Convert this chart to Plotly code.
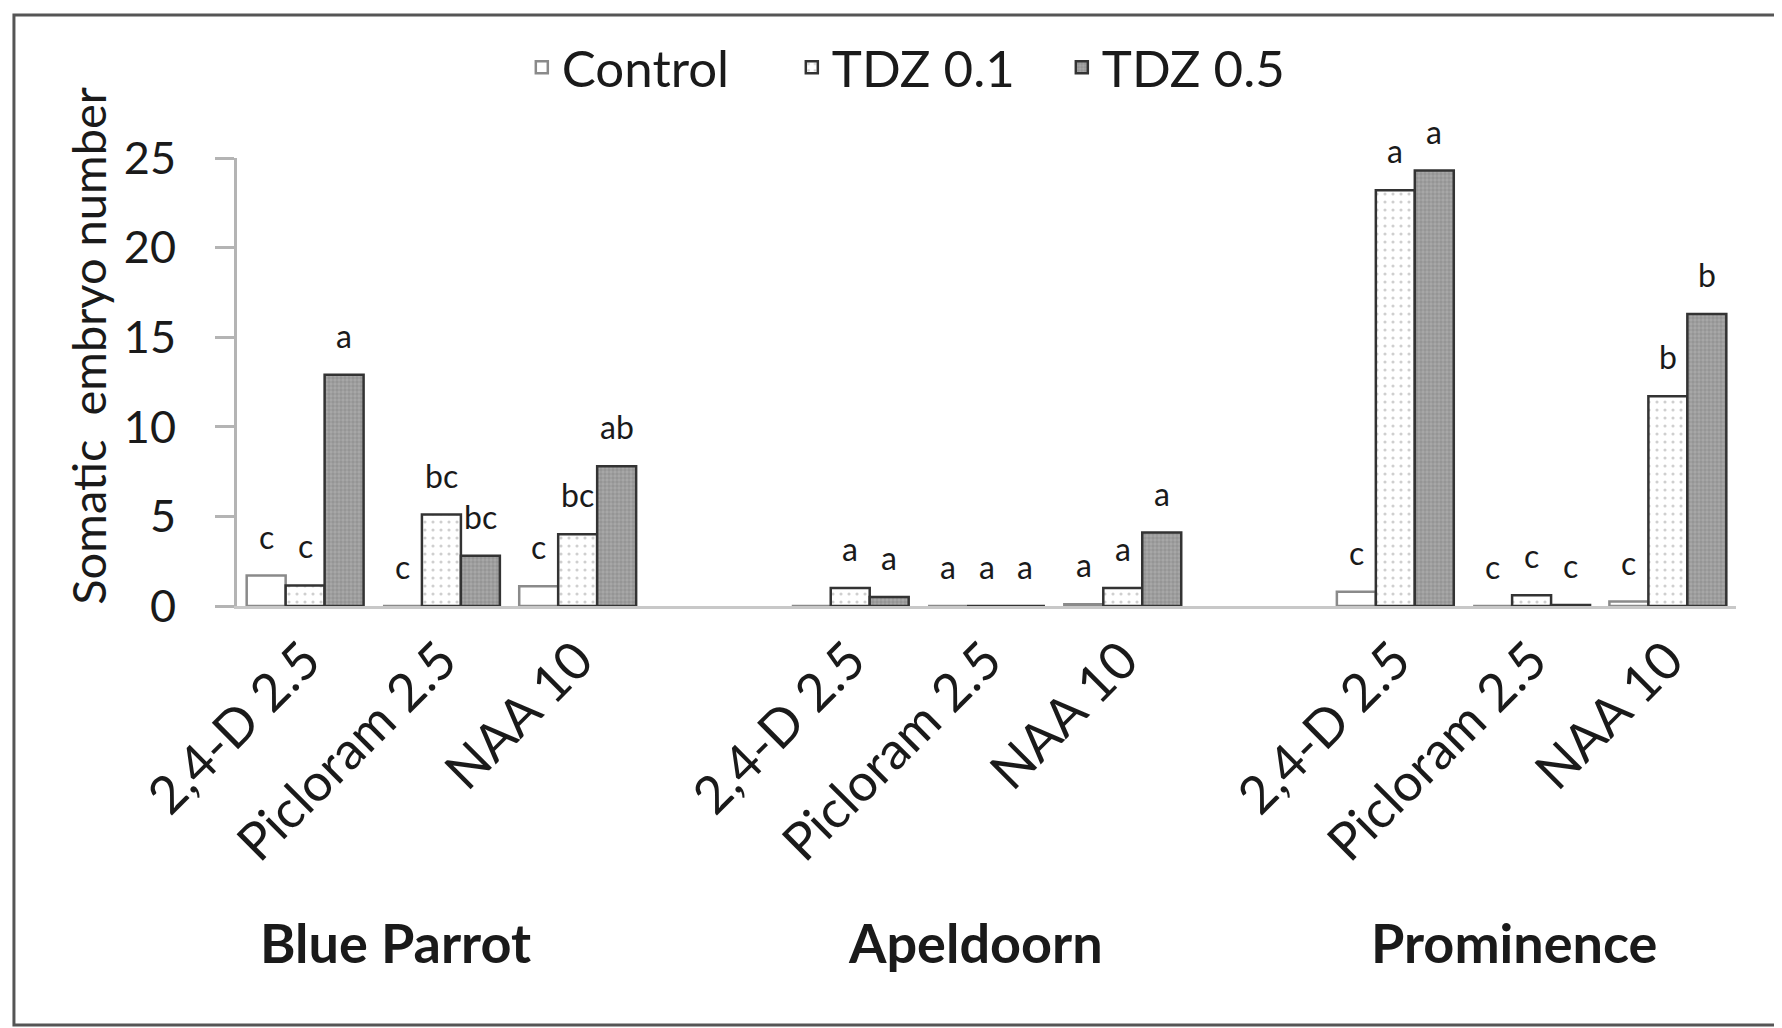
import plotly.graph_objects as go

groups = ["Blue Parrot", "Apeldoorn", "Prominence"]
auxins = ["2,4-D 2.5", "Picloram 2.5", "NAA 10"]
series_names = ["Control", "TDZ 0.1", "TDZ 0.5"]

control = [1.7, 0.0, 1.1, 0.0, 0.0, 0.1, 0.8, 0.0, 0.25]
tdz01 = [1.15, 5.1, 4.0, 1.0, 0.0, 1.0, 23.2, 0.6, 11.7]
tdz05 = [12.9, 2.8, 7.8, 0.5, 0.0, 4.1, 24.3, 0.05, 16.3]

letters_control = ["c", "c", "c", "", "a", "a", "c", "c", "c"]
letters_tdz01 = ["c", "bc", "bc", "a", "a", "a", "a", "c", "b"]
letters_tdz05 = ["a", "bc", "ab", "a", "a", "a", "a", "c", "b"]

y_ticks = [0, 5, 10, 15, 20, 25]

FONT = "Lato"
TXT = "#1a1a1a"

# slot positions: three auxin slots per cultivar, with an empty slot between cultivars
n_aux = len(auxins)
positions = []
labels = []
for g in range(len(groups)):
    for a in range(n_aux):
        positions.append(g * (n_aux + 1) + a)
        labels.append(auxins[a])

bargap = 0.142
bw = (1 - bargap) / 3

styles = [
    dict(color="white", line=dict(color="#8a8a8a", width=2.5)),
    dict(color="white", line=dict(color="#333333", width=2.5),
         pattern=dict(shape=".", fgcolor="#a0a0a0", bgcolor="white", size=8, solidity=0.12)),
    dict(color="#939393", line=dict(color="#333333", width=2.5),
         pattern=dict(shape=".", fgcolor="#bcbcbc", bgcolor="#939393", size=4, solidity=0.55)),
]
values = [control, tdz01, tdz05]
letters = [letters_control, letters_tdz01, letters_tdz05]

fig = go.Figure()
for i in range(3):
    fig.add_trace(go.Bar(
        x=positions, y=values[i], name=series_names[i],
        marker=styles[i], cliponaxis=False,
    ))

annotations = []
for i in range(3):
    for p, v, t in zip(positions, values[i], letters[i]):
        if t:
            annotations.append(dict(
                x=p + (i - 1) * bw, y=v, xref="x", yref="y", text=t,
                showarrow=False, xanchor="center", yanchor="bottom", yshift=18,
                font=dict(family=FONT, size=32, color=TXT),
            ))

# cultivar labels sit under the middle auxin slot of each cultivar (slightly left, as in the original)
label_shift = [-0.34, -0.08, -0.13]
for g, name in enumerate(groups):
    annotations.append(dict(
        x=g * (n_aux + 1) + 1 + label_shift[g], y=-0.752, xref="x", yref="paper",
        text="<b>" + name + "</b>", showarrow=False, xanchor="center", yanchor="middle",
        font=dict(family=FONT, size=54, color=TXT),
    ))

annotations.append(dict(
    x=-0.099, y=0.58, xref="paper", yref="paper", text="Somatic  embryo number",
    textangle=-90, showarrow=False, xanchor="center", yanchor="middle",
    font=dict(family=FONT, size=47, color=TXT),
))

fig.update_layout(
    width=1782, height=1028,
    margin=dict(l=229, r=54, t=150, b=430),
    paper_bgcolor="white", plot_bgcolor="white",
    barmode="group", bargap=bargap, bargroupgap=0,
    font=dict(family=FONT, color=TXT),
    showlegend=True,
    legend=dict(orientation="h", x=0.19, y=1.202, xanchor="left", yanchor="middle",
                entrywidth=225, entrywidthmode="pixels",
                font=dict(family=FONT, size=51, color=TXT), bgcolor="rgba(0,0,0,0)"),
    annotations=annotations,
    shapes=[dict(type="rect", xref="paper", yref="paper",
                 x0=-0.1488, x1=1.0274, y0=-0.9353, y1=1.3192,
                 line=dict(color="#555555", width=3), fillcolor="rgba(0,0,0,0)", layer="below")],
)

fig.update_xaxes(
    range=[-0.5, 10.5], tickvals=positions, ticktext=labels, tickangle=-45,
    showline=True, linecolor="#c8c8c8", linewidth=3, ticks="",
    showgrid=False, zeroline=False,
    tickfont=dict(family=FONT, size=52, color=TXT),
)
fig.update_yaxes(
    range=[0, 25], tickvals=y_ticks, ticks="outside", ticklen=19, tickcolor="#b4b4b4",
    tickwidth=2.5, showline=True, linecolor="#b4b4b4", linewidth=3,
    showgrid=False, zeroline=False,
    tickfont=dict(family=FONT, size=45, color=TXT), ticklabelstandoff=30,
)

fig.write_html("out.html")
